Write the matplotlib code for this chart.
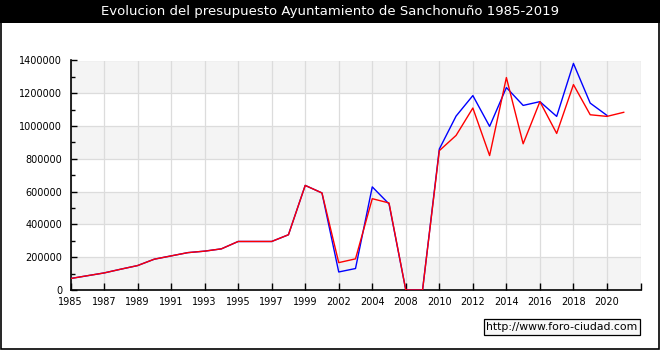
import numpy as np
import matplotlib
matplotlib.use("Agg")
import matplotlib.pyplot as plt
from matplotlib.patches import Rectangle

#%% Data
years = [1985, 1986, 1987, 1988, 1989, 1990, 1991, 1992, 1993, 1994,
         1995, 1996, 1997, 1998, 1999, 2000, 2002, 2003, 2004, 2006,
         2008, 2009, 2010, 2011, 2012, 2013, 2014, 2015, 2016, 2017,
         2018, 2019, 2020, 2021]

# red line (all years)
red_values = [70000, 87000, 104000, 127000, 149000, 188000, 208000, 228000, 237000, 251000,
              296000, 296000, 296000, 337000, 638000, 592000, 167000, 190000, 557000, 531000,
              0, 0, 850000, 943000, 1110000, 820000, 1296000, 892000, 1149000, 955000,
              1253000, 1069000, 1059000, 1084000]

# blue line (ends one year earlier)
blue_values = [70000, 87000, 104000, 127000, 149000, 188000, 208000, 228000, 237000, 251000,
               296000, 296000, 296000, 337000, 638000, 592000, 110000, 131000, 629000, 525000,
               0, 0, 860000, 1061000, 1186000, 998000, 1235000, 1126000, 1149000, 1059000,
               1382000, 1140000, 1065000]

y_ticks = [0, 200000, 400000, 600000, 800000, 1000000, 1200000, 1400000]

title = "Evolucion del presupuesto Ayuntamiento de Sanchonuño 1985-2019"
watermark = "http://www.foro-ciudad.com"

#%% Figure
plt.rcParams['font.family'] = ['DejaVu Sans']
fig = plt.figure(figsize=(6.6, 3.5), dpi=100)
fig.patch.set_facecolor("white")

# black title bar and outer frame
fig.patches.append(Rectangle((0, 1 - 23 / 350), 1, 23 / 350, transform=fig.transFigure,
                             facecolor="black", edgecolor="none", zorder=0))
fig.patches.append(Rectangle((0.0008, 0.003), 0.9977, 0.996, transform=fig.transFigure,
                             facecolor="none", edgecolor="black", linewidth=1.2, zorder=5))
fig.text(0.5, 1 - 12 / 350, title, color="white", fontsize=9.5, ha="center", va="center")

ax = fig.add_axes([70.5 / 660, 1 - 290 / 350, 570 / 660, 229.5 / 350])

x_red = np.arange(len(red_values))
x_blue = np.arange(len(blue_values))
n_slots = len(years)  # last gridline sits one slot after the last year

ax.set_xlim(0, n_slots)
ax.set_ylim(0, 1400000)

# alternating grey bands
for i in range(0, len(y_ticks) - 1, 2):
    ax.axhspan(y_ticks[i], y_ticks[i + 1], color="#f4f4f4", zorder=0, linewidth=0)

x_tick_pos = list(range(0, n_slots + 1, 2))
x_tick_labels = [str(years[i]) if i < len(years) else "" for i in x_tick_pos]
ax.set_xticks(x_tick_pos)
ax.set_xticklabels(x_tick_labels)
ax.set_yticks(y_ticks)
ax.set_yticklabels([str(v) for v in y_ticks])
ax.set_yticks(np.arange(100000, 1400000, 200000), minor=True)

ax.grid(True, color="#dcdcdc", linewidth=0.9, zorder=1)
ax.set_axisbelow(True)

ax.plot(x_blue, blue_values, color="#0000ff", linewidth=1.0, zorder=3)
ax.plot(x_red, red_values, color="#ff0000", linewidth=1.0, zorder=4)

for side in ["top", "right"]:
    ax.spines[side].set_visible(False)
for side in ["left", "bottom"]:
    ax.spines[side].set_color("black")
    ax.spines[side].set_linewidth(1.2)

ax.tick_params(axis="both", which="major", direction="in", length=4, width=1,
               labelsize=7, color="black")
ax.tick_params(axis="x", which="major", length=5, pad=5)
ax.tick_params(axis="y", which="minor", direction="in", length=3, width=1)
ax.tick_params(axis="y", which="major", pad=6)

# watermark box
fig.text(562 / 660, 1 - 327 / 350, watermark, fontsize=7.8, ha="center", va="center",
         bbox=dict(boxstyle="square,pad=0.25", facecolor="#f8f8f8", edgecolor="black", linewidth=0.9))

fig.savefig("out.png", dpi=100, facecolor=fig.get_facecolor())
